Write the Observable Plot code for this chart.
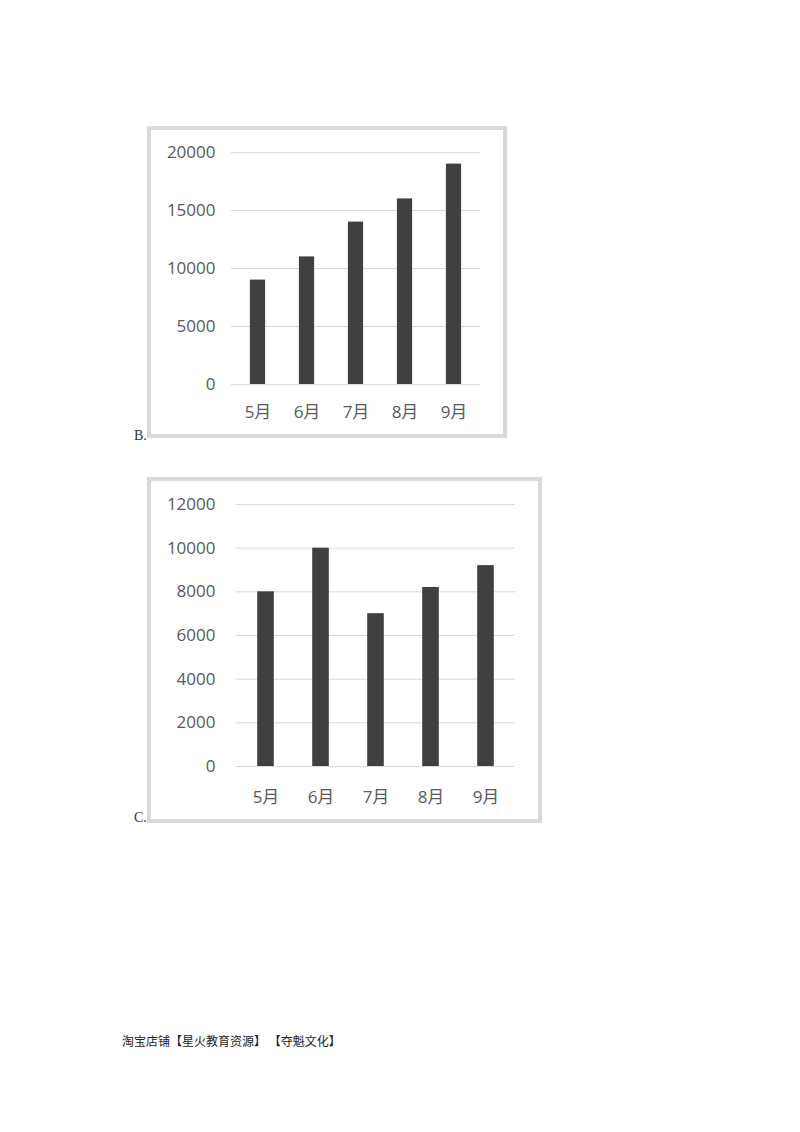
<!DOCTYPE html>
<html>
<head>
<meta charset="utf-8">
<script src="https://cdn.jsdelivr.net/npm/d3@7"></script>
<script src="https://cdn.jsdelivr.net/npm/@observablehq/plot@0.6"></script>
<style>
  html, body { margin: 0; padding: 0; background: #fff; }
  body { width: 800px; height: 1132px; position: relative; overflow: hidden; }
  .holder { position: absolute; }
  .holder svg { position: absolute; left: 0; top: 0; max-width: none !important; }
  .frame { position: absolute; left: 0; top: 0; box-sizing: border-box; border: 4px solid #d9d9d9; pointer-events: none; }
  .tag { position: absolute; font-family: "Liberation Serif", "DejaVu Serif", serif; font-size: 14px; color: #333; line-height: 14px; }
  .footer { position: absolute; left: 122px; top: 1033px; font-family: "Noto Sans CJK SC", sans-serif; font-size: 12px; line-height: 16px; color: #222; white-space: pre; }
</style>
</head>
<body>
<script>
// ---- data ----
const months = ["5月", "6月", "7月", "8月", "9月"];
const salesB = [9000, 11000, 14000, 16000, 19000];
const salesC = [8000, 10000, 7000, 8200, 9200];
const ticksB = [0, 5000, 10000, 15000, 20000];
const ticksC = [0, 2000, 4000, 6000, 8000, 10000, 12000];
const optionTags = ["B.", "C."];
const footerText = "淘宝店铺【星火教育资源】 【夺魁文化】";

function makeChart(values, ticks, cfg) {
  const data = months.map((m, i) => ({month: m, value: values[i]}));
  const holder = document.createElement("div");
  holder.className = "holder";
  holder.style.left = cfg.left + "px";
  holder.style.top = cfg.top + "px";
  holder.style.width = cfg.width + "px";
  holder.style.height = cfg.height + "px";
  const svg = Plot.plot({
    width: cfg.width,
    height: cfg.height,
    marginLeft: cfg.ml,
    marginRight: cfg.mr,
    marginTop: cfg.mt,
    marginBottom: cfg.mb,
    style: {
      fontSize: "17px",
      fontFamily: "'Open Sans', 'Noto Sans CJK SC', sans-serif",
      color: "#595959",
      background: "transparent",
      overflow: "visible"
    },
    x: {domain: months, padding: 0, label: null},
    y: {domain: [ticks[0], ticks[ticks.length - 1]], label: null},
    marks: [
      Plot.gridY(ticks, {stroke: "#d9d9d9", strokeOpacity: 1, strokeWidth: 1}),
      Plot.barY(data, {x: "month", y: "value", fill: "#404040", insetLeft: cfg.inset, insetRight: cfg.inset}),
      Plot.axisY(ticks, {tickSize: 0, tickPadding: cfg.ypad, tickFormat: d => String(d), label: null, fill: "#595959"}),
      Plot.axisX({tickSize: 0, tickPadding: cfg.xpad, label: null, fill: "#595959"})
    ]
  });
  holder.appendChild(svg);
  const frame = document.createElement("div");
  frame.className = "frame";
  frame.style.width = cfg.width + "px";
  frame.style.height = cfg.height + "px";
  holder.appendChild(frame);
  document.body.appendChild(holder);

  const tag = document.createElement("div");
  tag.className = "tag";
  tag.textContent = cfg.tag;
  tag.style.left = "134px";
  tag.style.top = cfg.tagTop + "px";
  document.body.appendChild(tag);
}

makeChart(salesB, ticksB, {
  left: 147, top: 126, width: 360, height: 312,
  ml: 84, mr: 27, mt: 26, mb: 54,
  inset: 16.9, ypad: 16, xpad: 21,
  tag: optionTags[0], tagTop: 429
});

makeChart(salesC, ticksC, {
  left: 147, top: 477, width: 395, height: 346,
  ml: 89, mr: 27, mt: 27, mb: 57,
  inset: 19.2, ypad: 21, xpad: 24,
  tag: optionTags[1], tagTop: 811
});

const footer = document.createElement("div");
footer.className = "footer";
footer.textContent = footerText;
document.body.appendChild(footer);
</script>
</body>
</html>
